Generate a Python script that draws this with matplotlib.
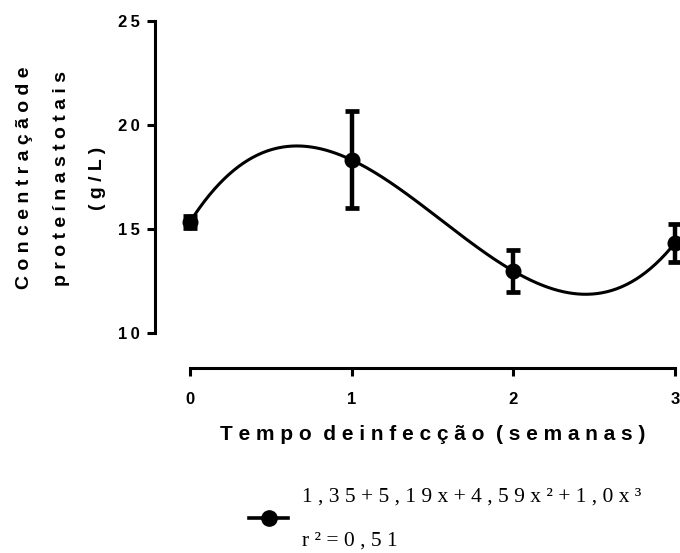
import numpy as np
import matplotlib
matplotlib.use("Agg")
import matplotlib.pyplot as plt
from matplotlib.lines import Line2D

# Data
weeks = [0, 1, 2, 3]
means = [15.34, 18.32, 12.98, 14.33]
errors = [0.3, 2.33, 1.0, 0.93]
x_ticks = [0, 1, 2, 3]
y_ticks = [10, 15, 20, 25]
x_tick_labels = ["0", "1", "2", "3"]
y_tick_labels = ["1\u20090", "1\u20095", "2\u20090", "2\u20095"]
xlabel = "T e m p o  d e i n f e c ç ã o  ( s e m a n a s )"
ylabel_lines = ["C o n c e n t r a ç ã o d e", "p r o t e í n a s t o t a i s", "( g / L )"]
legend_label = "1 , 3 5 + 5 , 1 9 x + 4 , 5 9 x ² + 1 , 0 x ³\nr ² = 0 , 5 1"

plt.rcParams['font.family'] = ['Liberation Sans', 'DejaVu Sans']

W, H = 680, 553
fig = plt.figure(figsize=(W / 100, H / 100), dpi=100)
ax = fig.add_axes([190 / W, 1 - 333 / H, (675 - 190) / W, (333 - 21) / H])

# cubic fit through the means
coef = np.polyfit(weeks, means, 3)
xs = np.linspace(0, 3, 300)
ax.plot(xs, np.polyval(coef, xs), color='black', lw=2.2, clip_on=False, zorder=2)
ax.errorbar(weeks, means, yerr=errors, fmt='o', color='black', ms=10.5,
            elinewidth=3.2, capsize=5, capthick=3.4, clip_on=False, zorder=3)

ax.set_xlim(0, 3)
ax.set_ylim(10, 25)
ax.set_xticks(x_ticks)
ax.set_xticklabels(x_tick_labels)
ax.set_yticks(y_ticks)
ax.set_yticklabels(y_tick_labels)

for s in ['top', 'right']:
    ax.spines[s].set_visible(False)
for s in ['left', 'bottom']:
    ax.spines[s].set_position(('outward', 25.2))
    ax.spines[s].set_linewidth(2.2)
ax.tick_params(axis='both', width=2.2, length=6, colors='black', labelsize=12)
ax.tick_params(axis='y', pad=5)
ax.tick_params(axis='x', pad=11)
for lab in ax.get_xticklabels() + ax.get_yticklabels():
    lab.set_fontweight('bold')

ax.set_xlabel(xlabel, fontweight='bold', fontsize=15, labelpad=13)

# three-line y label
ycenter = 1 - 178 / H
for xp, line in zip([25, 62, 98], ylabel_lines):
    fig.text(xp / W, ycenter, line, rotation=90, ha='center', va='center',
             fontweight='bold', fontsize=14)

handle = Line2D([], [], color='black', marker='o', lw=2.6, ms=11)
leg = fig.legend([handle], [legend_label], loc='center left',
                 bbox_to_anchor=(230 / W, 1 - 519 / H), frameon=False,
                 handlelength=1.8, handletextpad=0.65,
                 prop={'family': 'Liberation Serif', 'size': 15.5})
for t in leg.get_texts():
    t.set_linespacing(2.75)

fig.savefig("out.png", dpi=100)
